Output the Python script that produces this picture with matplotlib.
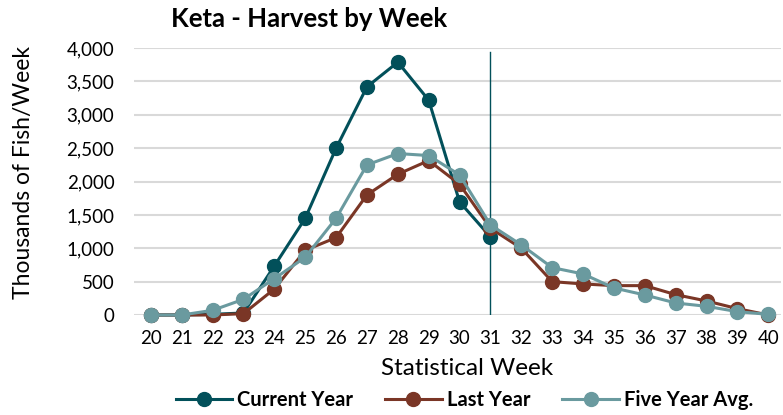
import numpy as np
import matplotlib.pyplot as plt

plt.rcParams['font.family'] = ['Lato', 'DejaVu Sans']

weeks = list(range(20, 41))
current_weeks = list(range(20, 32))
current_year = [0, 0, 10, 30, 735, 1450, 2500, 3420, 3790, 3220, 1695, 1170]
last_year = [0, 0, 0, 20, 390, 970, 1160, 1800, 2110, 2315, 1960, 1300,
             1000, 500, 465, 440, 440, 305, 210, 95, 0]
five_year = [0, 0, 70, 235, 545, 865, 1450, 2250, 2420, 2390, 2100, 1350,
             1050, 710, 615, 405, 300, 180, 130, 50, 10]
current_week = 31

c_cur = '#02505A'
c_last = '#7A3626'
c_avg = '#6A9A9F'

fig = plt.figure(figsize=(7.83, 4.15), dpi=100)
ax = fig.add_axes([0.171, 0.241, 0.826, 0.643])

ax.plot(current_weeks, current_year, color=c_cur, lw=2.2, marker='o', ms=10,
        label='Current Year', clip_on=False, zorder=3)
ax.plot(weeks, last_year, color=c_last, lw=2.2, marker='o', ms=10,
        label='Last Year', clip_on=False, zorder=4)
ax.plot(weeks, five_year, color=c_avg, lw=2.2, marker='o', ms=10,
        label='Five Year Avg.', clip_on=False, zorder=5)
ax.axvline(current_week, ymin=0, ymax=0.985, color=c_cur, lw=1, zorder=2)

ax.set_xlim(19.45, 40.4)
ax.set_ylim(0, 4000)
ax.set_xticks(weeks)
ax.set_yticks(np.arange(0, 4001, 500))
ax.yaxis.set_major_formatter(plt.FuncFormatter(lambda v, p: f'{int(v):,}'))
ax.grid(axis='y', color='#D9D9D9', lw=1.5, zorder=0)
ax.set_axisbelow(True)
for s in ax.spines.values():
    s.set_visible(False)
ax.tick_params(length=0, labelsize=13.5, colors='black')
ax.tick_params(axis='x', pad=11)
ax.tick_params(axis='y', pad=14)

ax.set_xlabel('Statistical Week', fontsize=17.5, va='center')
ax.xaxis.set_label_coords(0.515, -0.199)
ax.set_ylabel('Thousands of Fish/Week', fontsize=16.5, va='center')
ax.yaxis.set_label_coords(-0.171, 0.535)
fig.text(0.219, 0.955, 'Keta - Harvest by Week', fontsize=18.5, fontweight='bold',
         ha='left', va='center')

leg = fig.legend(loc='center', bbox_to_anchor=(0.593, 0.035), ncol=3, frameon=False,
                 prop={'weight': 'bold', 'size': 14.5}, handlelength=2.8,
                 columnspacing=1.6, handletextpad=0.25)

fig.savefig('out.png', dpi=100)
